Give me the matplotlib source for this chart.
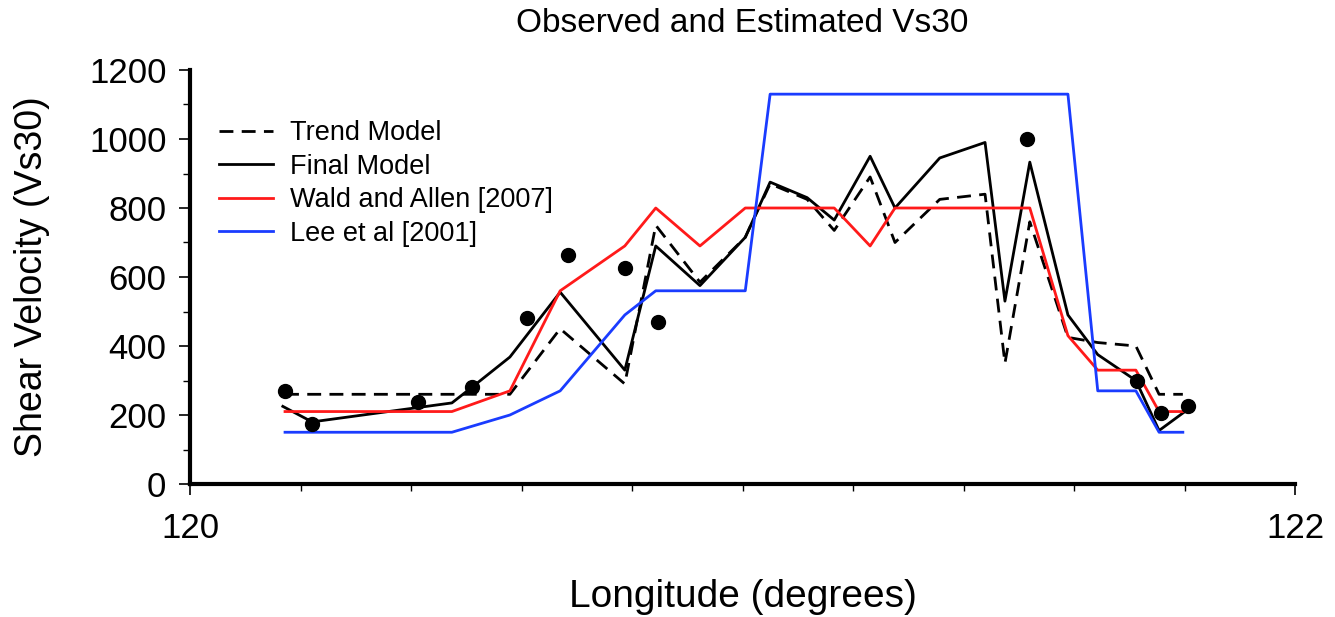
import matplotlib
matplotlib.use("Agg")
import matplotlib.pyplot as plt
from matplotlib.ticker import MultipleLocator

plt.rcParams['font.family'] = ['Liberation Sans', 'DejaVu Sans']

# ---- data ----
lon_lee = [120.172, 120.474, 120.579, 120.670, 120.787, 120.843, 121.005, 121.050,
           121.589, 121.643, 121.712, 121.754, 121.797]
vs_lee = [150, 150, 200, 270, 490, 560, 560, 1130, 1130, 270, 270, 150, 150]

lon_wald = [120.172, 120.474, 120.579, 120.670, 120.787, 120.843, 120.923, 121.005,
            121.166, 121.231, 121.276, 121.520, 121.589, 121.643, 121.712, 121.754, 121.797]
vs_wald = [210, 210, 270, 560, 690, 800, 690, 800, 800, 690, 800, 800, 430, 330, 330, 210, 210]

lon_trend = [120.172, 120.579, 120.670, 120.787, 120.843, 120.923, 121.005, 121.050,
             121.117, 121.166, 121.231, 121.276, 121.357, 121.439, 121.475, 121.520,
             121.589, 121.643, 121.712, 121.754, 121.797]
vs_trend = [260, 260, 450, 290, 750, 585, 715, 870, 825, 735, 890, 700, 825, 840, 350, 760,
            425, 410, 400, 260, 260]

lon_final = [120.168, 120.221, 120.474, 120.510, 120.579, 120.670, 120.787, 120.843, 120.923,
             121.005, 121.050, 121.117, 121.166, 121.231, 121.276, 121.357, 121.439, 121.475,
             121.520, 121.589, 121.643, 121.712, 121.754, 121.805]
vs_final = [225, 180, 235, 280, 368, 556, 330, 690, 575, 715, 875, 830, 765, 950, 800, 945,
            990, 530, 933, 490, 375, 300, 155, 215]

lon_obs = [120.172, 120.221, 120.413, 120.510, 120.610, 120.684, 120.787, 120.847,
           121.515, 121.714, 121.757, 121.806]
vs_obs = [270, 175, 237, 280, 480, 665, 625, 470, 1000, 300, 205, 225]

title = "Observed and Estimated Vs30"
xlabel = "Longitude (degrees)"
ylabel = "Shear Velocity (Vs30)"

# ---- figure ----
W, H = 1335, 617
fig = plt.figure(figsize=(W/100, H/100), dpi=100)
ax = fig.add_axes([190/W, 1-484/H, (1295-190)/W, (484-70)/H])

lw = 2.0
ax.plot(lon_trend, vs_trend, color='black', lw=lw, ls=(0, (5, 3)), label='Trend Model')
ax.plot(lon_final, vs_final, color='black', lw=lw, label='Final Model')
ax.plot(lon_wald, vs_wald, color='#ff1a1a', lw=lw, label='Wald and Allen [2007]')
ax.plot(lon_lee, vs_lee, color='#1a3cff', lw=lw, label='Lee et al [2001]')
ax.plot(lon_obs, vs_obs, 'o', color='black', ms=10, zorder=5)

ax.set_xlim(120, 122)
ax.set_ylim(0, 1200)
ax.xaxis.set_major_locator(MultipleLocator(2))
ax.xaxis.set_minor_locator(MultipleLocator(0.2))
ax.yaxis.set_major_locator(MultipleLocator(200))
ax.yaxis.set_minor_locator(MultipleLocator(100))

for s in ['top', 'right']:
    ax.spines[s].set_visible(False)
for s in ['left', 'bottom']:
    ax.spines[s].set_linewidth(3)

ax.tick_params(axis='both', which='major', direction='out', length=8, width=1.2,
               labelsize=25, pad=9)
ax.tick_params(axis='x', which='major', pad=12)
ax.tick_params(axis='both', which='minor', direction='out', length=5, width=1.0)

fig.text(742/W, 1-24/H, title, fontsize=24, ha='center', va='center')
ax.set_xlabel(xlabel, fontsize=28)
ax.xaxis.set_label_coords(0.5, (484-597)/414)
ax.xaxis.label.set_va('center')
ax.set_ylabel(ylabel, fontsize=27)
ax.yaxis.set_label_coords((32-190)/1105, 0.5)
ax.yaxis.label.set_va('center')

leg = ax.legend(loc='upper left', bbox_to_anchor=(0.016, 0.905), frameon=False,
                fontsize=19.5, handlelength=2.0, handletextpad=0.65, labelspacing=0.28,
                borderaxespad=0)

fig.savefig('out.png', dpi=100)
